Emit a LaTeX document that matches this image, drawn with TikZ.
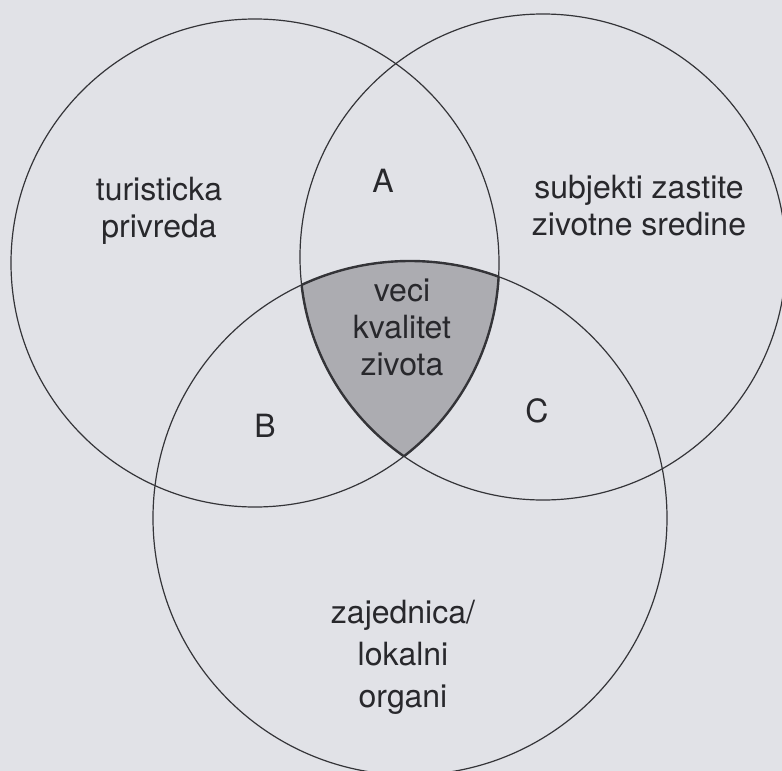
\documentclass[tikz,border=0pt]{standalone}
\usepackage{fontspec}
\setmainfont{TeX Gyre Heros}
\definecolor{bgcol}{RGB}{225,226,231}
\definecolor{linecol}{RGB}{52,52,56}
\definecolor{shadecol}{RGB}{172,172,177}
\definecolor{txtcol}{RGB}{40,40,44}
\begin{document}
\begin{tikzpicture}[x=1pt,y=-1pt,
  ring/.style={draw=linecol, line width=1.2pt},
  edge/.style={draw=linecol, line width=2.4pt},
  lbl/.style={text=txtcol, font=\fontsize{32}{37}\selectfont, align=center, inner sep=0pt}]
\fill[bgcol] (0,0) rectangle (782,771);
\useasboundingbox (0,0) rectangle (782,771);
\coordinate (cl) at (255,263);
\coordinate (cr) at (543,257);
\coordinate (cb) at (410,518);
% shaded triple intersection
\begin{scope}
  \clip (cl) circle[radius=244];
  \clip (cr) circle[radius=243];
  \fill[shadecol] (cb) circle[radius=257];
\end{scope}
% circles
\draw[ring] (cl) circle[radius=244];
\draw[ring] (cr) circle[radius=243];
\draw[ring] (cb) circle[radius=257];
% thicker outline of the shaded region
\begin{scope}
  \clip (cl) circle[radius=244];
  \clip (cr) circle[radius=243];
  \draw[edge] (cb) circle[radius=257];
\end{scope}
\begin{scope}
  \clip (cl) circle[radius=244];
  \clip (cb) circle[radius=257];
  \draw[edge] (cr) circle[radius=243];
\end{scope}
\begin{scope}
  \clip (cr) circle[radius=243];
  \clip (cb) circle[radius=257];
  \draw[edge] (cl) circle[radius=244];
\end{scope}
% labels (anchor=base is the baseline of the last line)
\node[lbl, anchor=base] (tur) at (159,237) {turisticka\\privreda};
\node[lbl, anchor=base] (sub) at (639,235) {subjekti zastite\\zivotne sredine};
\node[lbl, anchor=base] (A) at (383,192) {A};
\node[lbl, anchor=base] (veci) at (402,375) {veci\\kvalitet\\zivota};
\node[lbl, anchor=base] (B) at (265,437) {B};
\node[lbl, anchor=base] (C) at (537,422) {C};
\node[lbl, anchor=base, font=\fontsize{32}{42}\selectfont] (zaj) at (403,707) {zajednica/\\lokalni\\organi};
\end{tikzpicture}
\end{document}
